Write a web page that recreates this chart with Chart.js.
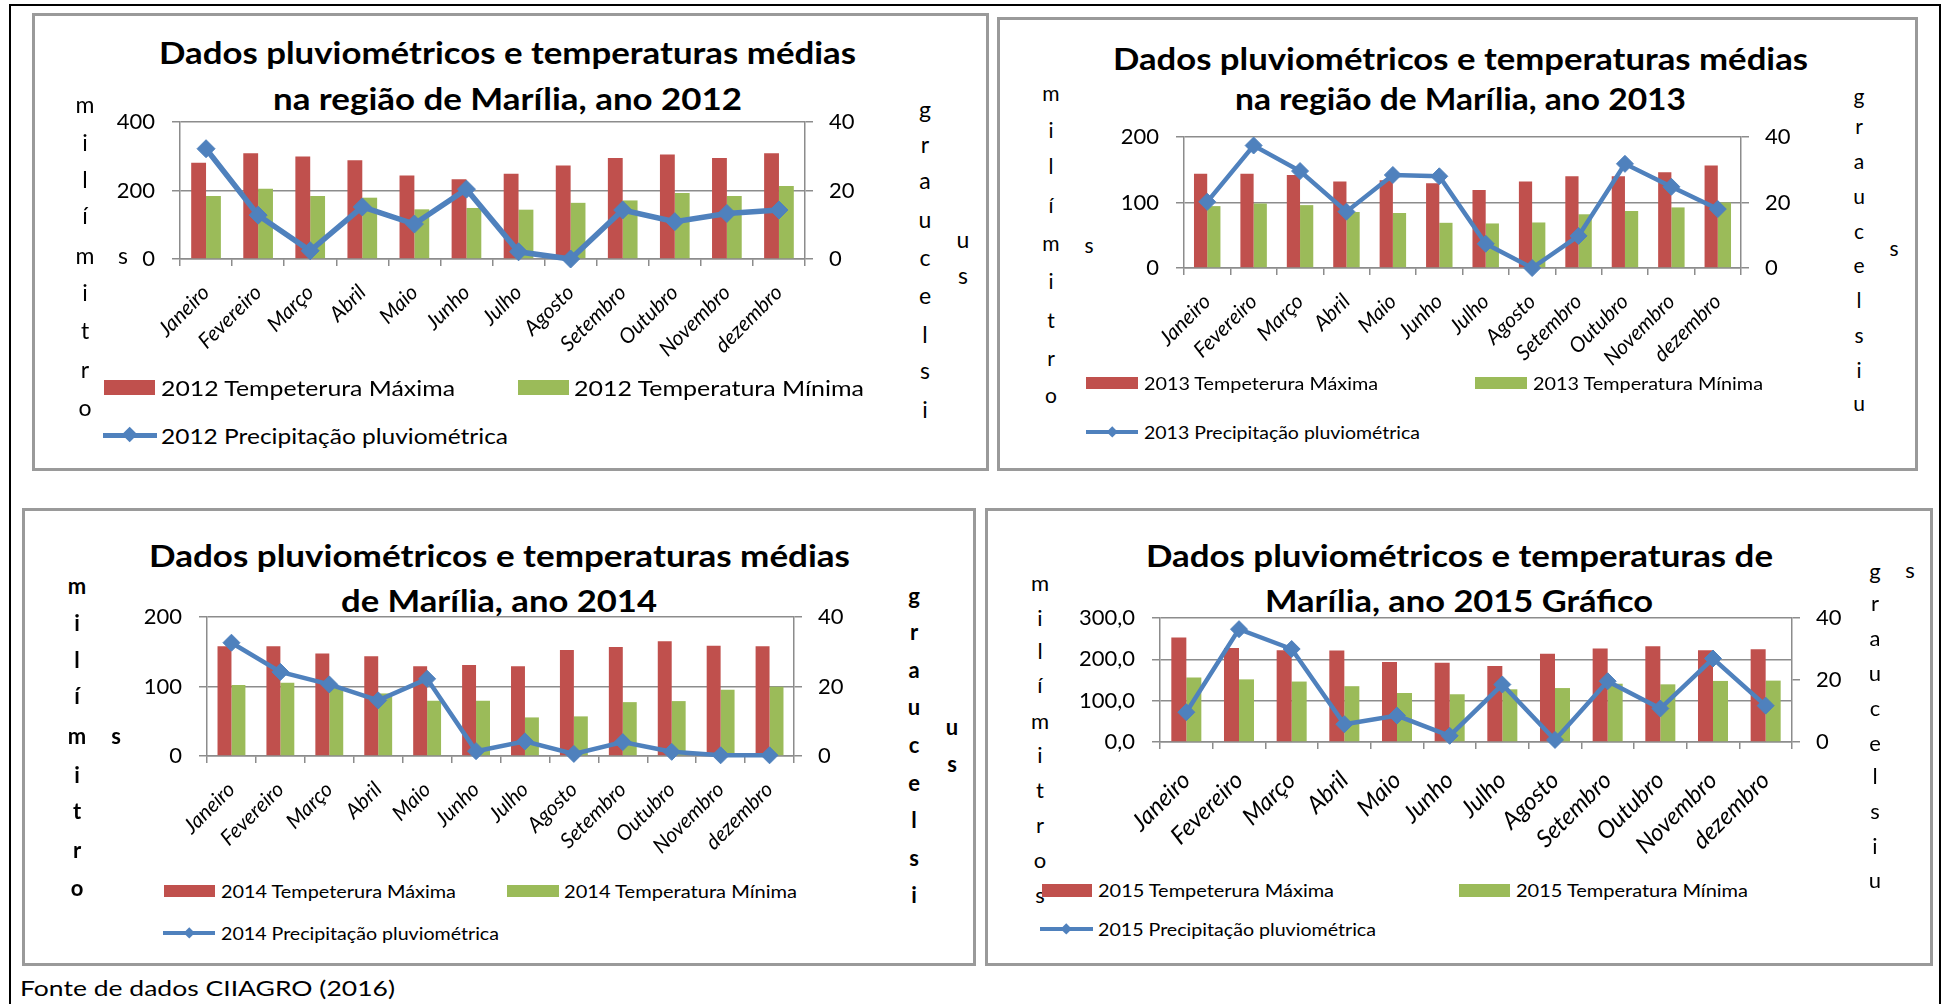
<!DOCTYPE html>
<html><head><meta charset="utf-8">
<script src="https://cdn.jsdelivr.net/npm/chart.js@4.4.1/dist/chart.umd.min.js"></script>
<style>
html,body{margin:0;padding:0;background:#fff;}
#page{position:relative;width:1946px;height:1004px;overflow:hidden;background:#fff;}
.t{position:absolute;white-space:nowrap;line-height:1;color:#000;transform-origin:0 50%;}
canvas{position:absolute;}
</style></head><body><div id="page"></div>
<script>
// ---------- DATA ----------
const months = ['Janeiro','Fevereiro','Março','Abril','Maio','Junho','Julho','Agosto','Setembro','Outubro','Novembro','dezembro'];
const max2012 = [28.1, 30.9, 29.9, 28.8, 24.4, 23.3, 24.9, 27.3, 29.5, 30.5, 29.5, 30.9];
const min2012 = [18.4, 20.5, 18.4, 17.9, 14.5, 14.9, 14.4, 16.4, 17.1, 19.3, 18.4, 21.3];
const rain2012 = [322, 128, 24, 152, 102, 204, 21, 0, 143, 109, 133, 143];
const max2013 = [28.8, 28.8, 28.4, 26.4, 26.8, 25.9, 23.8, 26.4, 28.0, 28.0, 29.2, 31.3];
const min2013 = [18.9, 19.7, 19.2, 17.1, 16.8, 13.8, 13.6, 13.9, 16.4, 17.4, 18.5, 20.0];
const rain2013 = [101, 187, 148, 86, 142, 140, 37, 0, 49, 159, 124, 90];
const max2014 = [31.6, 31.6, 29.5, 28.7, 25.8, 26.2, 25.8, 30.5, 31.4, 33.0, 31.7, 31.6];
const min2014 = [20.4, 21.1, 19.7, 18.0, 15.9, 15.9, 11.1, 11.4, 15.5, 15.8, 19.1, 19.9];
const rain2014 = [163, 121, 103, 80, 111, 7, 21, 3, 20, 6, 1, 1];
const max2015 = [33.7, 30.3, 29.6, 29.5, 25.8, 25.6, 24.5, 28.5, 30.2, 30.9, 29.6, 29.9];
const min2015 = [20.8, 20.2, 19.5, 18.0, 15.8, 15.4, 17.0, 17.4, 18.8, 18.6, 19.7, 19.8];
const rain2015 = [72, 273, 225, 43, 64, 15, 139, 5, 147, 81, 202, 88];
const mmTicks2012 = [0, 200, 400];
const mmTicks2013 = [0, 100, 200];
const mmTicks2014 = [0, 100, 200];
const mmTicks2015 = [0, 100, 200, 300];
const degTicks = [0, 20, 40];
const titles2012 = ['Dados pluviométricos e temperaturas médias', 'na região de Marília, ano 2012'];
const titles2013 = ['Dados pluviométricos e temperaturas médias', 'na região de Marília, ano 2013'];
const titles2014 = ['Dados pluviométricos e temperaturas médias', 'de Marília, ano 2014'];
const titles2015 = ['Dados pluviométricos e temperaturas de', 'Marília, ano 2015 Gráfico'];
const source = 'Fonte de dados CIIAGRO (2016)';

// ---------- STYLE ----------
const RED = '#C0504D', GREEN = '#9BBB59', BLUE = '#4F81BD', GRAY = '#8c8c8c';
const FONT = 'Lato, "Open Sans", sans-serif';
const page = document.getElementById('page');

function box(x, y, w, h, css) {
  const d = document.createElement('div');
  d.style.cssText = `position:absolute;left:${x}px;top:${y}px;width:${w}px;height:${h}px;` + css;
  page.appendChild(d); return d;
}
function text(s, x, y, o) {
  const el = document.createElement('div');
  el.className = 't';
  el.textContent = s;
  el.style.font = `${o.style || 'normal'} ${o.weight || 400} ${o.size}px ${FONT}`;
  page.appendChild(el);
  const r = el.getBoundingClientRect();
  const w0 = r.width, h0 = r.height;
  const w = o.w || w0;
  let left = x;
  if (o.align === 'center') left = x - w / 2; else if (o.align === 'right') left = x - w;
  el.style.left = left + 'px';
  el.style.top = (y - h0 / 2 + (o.dy || 0)) + 'px';
  if (Math.abs(w / w0 - 1) > 0.001) el.style.transform = `scaleX(${w / w0})`;
  return el;
}
function column(letters, x, ys, size, weight) {
  letters.forEach((ch, i) => text(ch, x, ys[i], {size, weight, align: 'center', dy: -3}));
}

// outer frame
box(9, 4, 1932, 2, 'background:#000');
box(9, 4, 2, 1000, 'background:#000');
box(1939, 4, 2, 1000, 'background:#000');

// panels
box(32, 13, 951, 452, 'border:3px solid #9a9a9a;background:#fff');
box(997, 17, 915, 448, 'border:3px solid #9a9a9a;background:#fff');
box(22, 508, 948, 452, 'border:3px solid #9a9a9a;background:#fff');
box(985, 508, 942, 452, 'border:3px solid #9a9a9a;background:#fff');

text(source, 20, 987, {size: 22, w: 375});

function noPad(s) { s.paddingTop = 0; s.paddingBottom = 0; s.paddingLeft = 0; s.paddingRight = 0; }

function makeChart(g, d) {
  const c = document.createElement('canvas');
  c.width = g.cw; c.height = g.ch;
  c.style.left = g.cx + 'px'; c.style.top = g.cy + 'px';
  page.appendChild(c);
  const mm = d.mmTicks;
  new Chart(c, {
    type: 'bar',
    data: {
      labels: months,
      datasets: [
        {type: 'line', label: d.year + ' Precipitação pluviométrica', data: d.rain, yAxisID: 'y', order: 0,
         borderColor: BLUE, backgroundColor: BLUE, borderWidth: g.lw, tension: 0, clip: false,
         pointStyle: 'rectRot', pointRadius: g.pr, pointHoverRadius: g.pr,
         pointBackgroundColor: BLUE, pointBorderColor: BLUE, pointBorderWidth: 1},
        {label: d.year + ' Tempeterura Máxima', data: d.max, yAxisID: 'y1', order: 1,
         backgroundColor: RED, categoryPercentage: 0.57, barPercentage: 1},
        {label: d.year + ' Temperatura Mínima', data: d.min, yAxisID: 'y1', order: 2,
         backgroundColor: GREEN, categoryPercentage: 0.57, barPercentage: 1}
      ]
    },
    options: {
      responsive: false, animation: false, maintainAspectRatio: false, events: [],
      layout: {padding: {top: g.py, left: 0, right: 0, bottom: 0}},
      plugins: {legend: {display: false}, tooltip: {enabled: false}, title: {display: false}},
      scales: {
        x: {
          offset: true,
          grid: {display: true, drawOnChartArea: false, drawTicks: true, tickLength: 7, color: GRAY, lineWidth: 1.5, offset: true},
          border: {display: true, color: GRAY, width: 1.5},
          ticks: {autoSkip: false, minRotation: 45, maxRotation: 45, color: '#000', padding: g.xpad,
                  font: {family: FONT, style: 'italic', size: g.xfs}},
          afterFit: s => { s.height = g.xh; noPad(s); }
        },
        y: {
          position: 'left', min: mm[0], max: mm[mm.length - 1],
          afterBuildTicks: s => { s.ticks = mm.map(v => ({value: v})); },
          ticks: {color: '#000', padding: 17, font: {family: FONT, size: g.yfs},
                  callback: v => d.decimal ? v.toFixed(1).replace('.', ',') : String(v)},
          grid: {color: GRAY, lineWidth: 1.5, drawTicks: true, tickLength: 8},
          border: {display: true, color: GRAY, width: 1.5},
          afterFit: s => { s.width = g.yw; noPad(s); }
        },
        y1: {
          position: 'right', min: degTicks[0], max: degTicks[degTicks.length - 1],
          afterBuildTicks: s => { s.ticks = degTicks.map(v => ({value: v})); },
          ticks: {color: '#000', padding: 16, font: {family: FONT, size: g.yfs}},
          grid: {drawOnChartArea: false, color: GRAY, lineWidth: 1.5, drawTicks: true, tickLength: 8},
          border: {display: true, color: GRAY, width: 1.5},
          afterFit: s => { s.width = g.y1w; noPad(s); }
        }
      }
    }
  });
}

function legend(L, year) {
  box(L.rx[0], L.y1 - L.bh / 2, L.rx[1] - L.rx[0], L.bh, 'background:' + RED);
  text(year + ' Tempeterura Máxima', L.t1[0], L.y1, {size: L.fs, w: L.t1[1]});
  box(L.gx[0], L.y1 - L.bh / 2, L.gx[1] - L.gx[0], L.bh, 'background:' + GREEN);
  text(year + ' Temperatura Mínima', L.t2[0], L.y1, {size: L.fs, w: L.t2[1]});
  box(L.lx[0], L.y2 - L.lw / 2, L.lx[1] - L.lx[0], L.lw, 'background:' + BLUE);
  const s = L.dr * Math.SQRT2, cxm = (L.lx[0] + L.lx[1]) / 2;
  box(cxm - s / 2, L.y2 - s / 2, s, s, 'background:' + BLUE + ';transform:rotate(45deg)');
  text(year + ' Precipitação pluviométrica', L.t3[0], L.y2, {size: L.fs, w: L.t3[1]});
}
function titles(T, lines) {
  text(lines[0], T.cx, T.y1, {size: T.fs, weight: 700, align: 'center', w: T.w1});
  text(lines[1], T.cx, T.y2, {size: T.fs, weight: 700, align: 'center', w: T.w2});
}

// ---------- PANEL 2012 ----------
titles({cx: 507, y1: 52, y2: 98, w1: 697, w2: 469, fs: 31}, titles2012);
makeChart({cx: 90, cy: 100, cw: 810, ch: 300, yw: 90, y1w: 95, py: 22, xh: 141, xfs: 21, yfs: 22, xpad: 14, lw: 5.5, pr: 9},
          {year: '2012', max: max2012, min: min2012, rain: rain2012, mmTicks: mmTicks2012});
column(['m','i','l','í','m','i','t','r','o'], 85, [107,145,182,218,258,295,333,372,410], 23, 400);
text('s', 123, 258, {size: 23, align: 'center', dy: -3});
column(['g','r','a','u','c','e','l','s','i'], 925, [112,147,183,222,260,298,337,373,412], 23, 400);
column(['u','s'], 963, [242,278], 23, 400);
legend({y1: 387, y2: 435, bh: 15, fs: 22, rx: [104,155], t1: [161,294], gx: [518,569], t2: [574,290], lx: [103,157], t3: [161,347], lw: 5, dr: 8}, '2012');

// ---------- PANEL 2013 ----------
titles({cx: 1460, y1: 58, y2: 98, w1: 695, w2: 451, fs: 31}, titles2013);
makeChart({cx: 1094, cy: 115, cw: 737, ch: 285, yw: 90, y1w: 90, py: 22, xh: 132, xfs: 21, yfs: 22, xpad: 14, lw: 4.5, pr: 8.5},
          {year: '2013', max: max2013, min: min2013, rain: rain2013, mmTicks: mmTicks2013});
column(['m','i','l','í','m','i','t','r','o'], 1051, [95,132,168,207,245,283,322,360,397], 21, 400);
text('s', 1089, 247, {size: 21, align: 'center', dy: -3});
column(['g','r','a','u','c','e','l','s','i','u'], 1859, [98,128,163,198,233,267,302,337,372,405], 21, 400);
text('s', 1894, 250, {size: 21, align: 'center', dy: -3});
legend({y1: 383, y2: 432, bh: 12, fs: 18, rx: [1086,1138], t1: [1144,234], gx: [1475,1527], t2: [1533,230], lx: [1086,1138], t3: [1144,276], lw: 4, dr: 6}, '2013');

// ---------- PANEL 2014 ----------
titles({cx: 499, y1: 555, y2: 600, w1: 701, w2: 316, fs: 31}, titles2014);
makeChart({cx: 117, cy: 595, cw: 767, ch: 275, yw: 90, y1w: 90, py: 22, xh: 114, xfs: 21, yfs: 22, xpad: 14, lw: 4.5, pr: 8.5},
          {year: '2014', max: max2014, min: min2014, rain: rain2014, mmTicks: mmTicks2014});
column(['m','i','l','í','m','i','t','r','o'], 77, [588,625,662,698,738,777,813,852,890], 22, 700);
text('s', 116, 738, {size: 22, weight: 700, align: 'center', dy: -3});
column(['g','r','a','u','c','e','l','s','i'], 914, [598,634,672,709,747,785,822,860,897], 22, 700);
column(['u','s'], 952, [729,766], 22, 700);
legend({y1: 891, y2: 933, bh: 12, fs: 18, rx: [164,215], t1: [221,235], gx: [507,559], t2: [564,233], lx: [163,215], t3: [221,278], lw: 4, dr: 6}, '2014');

// ---------- PANEL 2015 ----------
titles({cx: 1459, y1: 555, y2: 600, w1: 627, w2: 388, fs: 31}, titles2015);
makeChart({cx: 1070, cy: 596, cw: 812, ch: 274, yw: 90, y1w: 90, py: 22, xh: 128, xfs: 24, yfs: 22, xpad: 17, lw: 4.5, pr: 8.5},
          {year: '2015', max: max2015, min: min2015, rain: rain2015, mmTicks: mmTicks2015, decimal: true});
column(['m','i','l','í','m','i','t','r','o','s'], 1040, [585,620,653,687,723,757,792,827,862,897], 22, 400);
column(['g','r','a','u','c','e','l','s','i','u'], 1875, [573,605,640,675,710,745,778,813,848,882], 22, 400);
text('s', 1910, 572, {size: 22, align: 'center', dy: -3});
legend({y1: 890, y2: 929, bh: 13, fs: 18, rx: [1042,1092], t1: [1098,236], gx: [1459,1510], t2: [1516,232], lx: [1040,1093], t3: [1098,278], lw: 4, dr: 6}, '2015');
</script>
</body></html>
